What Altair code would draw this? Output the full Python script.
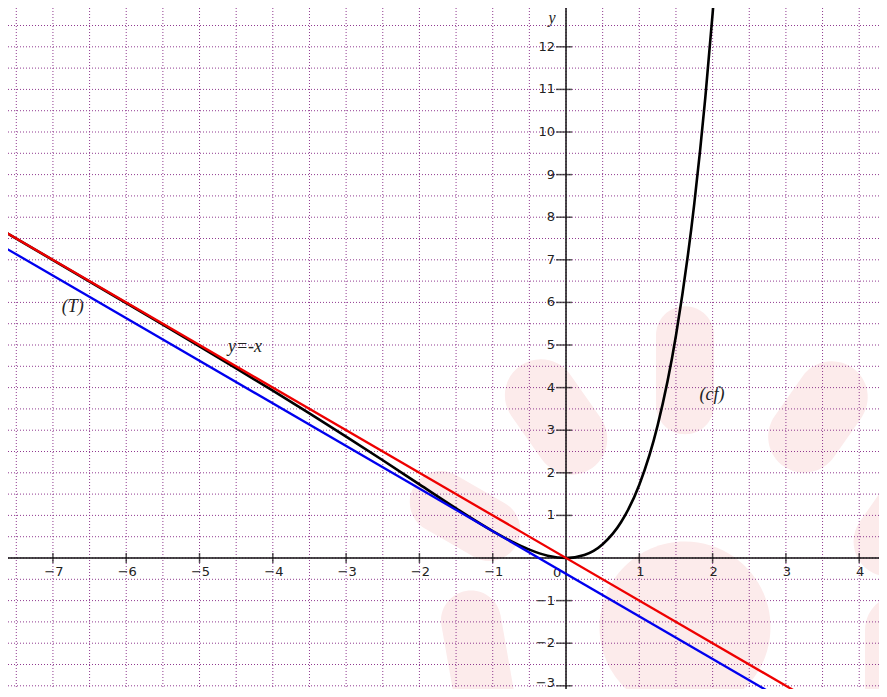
import altair as alt
import pandas as pd

# ---------------- data ----------------
# curve (cf)
cf_x = [-7.7, -7.5, -7.0, -6.5, -6.0, -5.5, -5.0, -4.5, -4.0, -3.5, -3.0, -2.5, -2.0,
        -1.5, -1.0, -0.75, -0.5, -0.25, 0.0, 0.25, 0.5, 0.75, 1.0, 1.25, 1.5, 1.75,
        1.9, 2.0, 2.05]
cf_y = [7.696, 7.496, 6.994, 6.490, 5.985, 5.478, 4.966, 4.450, 3.927, 3.394, 2.851,
        2.295, 1.729, 1.165, 0.632, 0.396, 0.197, 0.055, 0.0, 0.071, 0.324, 0.838,
        1.718, 3.113, 5.223, 8.321, 10.803, 12.778, 13.874]

# asymptote y = -x (red)
red_x = [-7.8, 3.4]
red_y = [7.8, -3.4]

# tangent (T) (blue)
blue_x = [-7.8, 3.2]
blue_y = [7.43, -3.57]

# axis ticks and labels
x_ticks = [-7, -6, -5, -4, -3, -2, -1, 1, 2, 3, 4]
x_tick_labels = ["−7", "−6", "−5", "−4", "−3", "−2", "−1", "1", "2", "3", "4"]
y_ticks = [-2, -1, 1, 2, 3, 4, 5, 6, 7, 8, 9, 10, 11, 12]
y_tick_labels = ["−2", "−1", "1", "2", "3", "4", "5", "6", "7", "8", "9", "10", "11", "12"]
y_low_tick = [-3]
y_low_label = ["−3"]

# dotted grid
grid_x = [v / 2 for v in range(-15, 9)]
grid_y = [v / 2 for v in range(-6, 26)]

# annotations
note_text = ["(T)", "y=-x", "(cf)"]
note_x = [-6.73, -4.38, 1.99]
note_y = [5.89, 4.95, 3.83]

# pale background blobs (watermark)
blob_x = [-0.136, 1.623, 3.438, -1.378, 1.623, -1.201, 4.557, 4.557]
blob_y = [3.31, 4.41, 3.31, 0.986, -1.62, -2.39, 0.77, -2.63]
blob_w = [72, 58, 72, 62, 171, 60, 70, 70]
blob_h = [125, 128, 120, 118, 171, 140, 110, 150]
blob_angle = [325, 0, 35, 300, 0, 350, 35, 0]

X_DOMAIN = [-7.613, 4.270]
Y_DOMAIN = [-3.075, 12.911]

xs = alt.Scale(domain=X_DOMAIN, nice=False, zero=False)
ys = alt.Scale(domain=Y_DOMAIN, nice=False, zero=False)
noax = None


def X():
    return alt.X("x:Q", scale=xs, axis=noax)


def Y():
    return alt.Y("y:Q", scale=ys, axis=noax)


def capsule(w, h):
    a = w / h
    b = 1 - a
    return (f"M{-a:.4f},{-b:.4f} A{a:.4f},{a:.4f} 0 0 1 {a:.4f},{-b:.4f} "
            f"L{a:.4f},{b:.4f} A{a:.4f},{a:.4f} 0 0 1 {-a:.4f},{b:.4f} Z")


layers = []

# blobs
for bx, by, bw, bh, ba in zip(blob_x, blob_y, blob_w, blob_h, blob_angle):
    d = pd.DataFrame({"x": [bx], "y": [by]})
    layers.append(
        alt.Chart(d).mark_point(shape=capsule(bw, bh), size=bh * bh, filled=True,
                                fill="#fcebeb", opacity=1, strokeWidth=0,
                                angle=ba, clip=True)
        .encode(x=X(), y=Y())
    )

# grid
gx = pd.DataFrame({"x": grid_x})
gy = pd.DataFrame({"y": grid_y})
layers.append(alt.Chart(gx).mark_rule(color="#8a2f8a", strokeWidth=1, strokeDash=[1, 2], opacity=0.95)
              .encode(x=X()))
layers.append(alt.Chart(gy).mark_rule(color="#8a2f8a", strokeWidth=1, strokeDash=[1, 2], opacity=0.95)
              .encode(y=Y()))

# axes
layers.append(alt.Chart(pd.DataFrame({"y": [0]})).mark_rule(color="#111", strokeWidth=1.5)
              .encode(y=Y()))
layers.append(alt.Chart(pd.DataFrame({"x": [0]})).mark_rule(color="#111", strokeWidth=1.5)
              .encode(x=X()))

xt = pd.DataFrame({"x": x_ticks, "y": [0] * len(x_ticks), "t": x_tick_labels})
yt = pd.DataFrame({"x": [0] * len(y_ticks), "y": y_ticks, "t": y_tick_labels})
ylow = pd.DataFrame({"x": [0], "y": y_low_tick, "t": y_low_label})
layers.append(alt.Chart(xt).mark_tick(orient="vertical", size=10, thickness=1.5, color="#111")
              .encode(x=X(), y=Y()))
layers.append(alt.Chart(pd.concat([yt, ylow])).mark_tick(orient="horizontal", size=16, thickness=1.5,
                                                         color="#111", xOffset=-2)
              .encode(x=X(), y=Y()))
layers.append(alt.Chart(xt).mark_text(font="DejaVu Sans", fontSize=13, color="#222", dy=14, dx=1)
              .encode(x=X(), y=Y(), text="t:N"))
layers.append(alt.Chart(yt).mark_text(font="DejaVu Sans", fontSize=13, color="#222", align="right", dx=-11)
              .encode(x=X(), y=Y(), text="t:N"))
layers.append(alt.Chart(ylow).mark_text(font="DejaVu Sans", fontSize=13, color="#222", align="right",
                                        dx=-11, dy=-3)
              .encode(x=X(), y=Y(), text="t:N"))
# origin label
layers.append(alt.Chart(pd.DataFrame({"x": [0], "y": [0], "t": ["0"]}))
              .mark_text(font="DejaVu Sans", fontSize=13, color="#222", dx=-9, dy=15)
              .encode(x=X(), y=Y(), text="t:N"))
# axis name y
layers.append(alt.Chart(pd.DataFrame({"x": [0], "y": [12.82], "t": ["y"]}))
              .mark_text(font="Liberation Serif", fontStyle="italic", fontSize=16, color="#222", dx=-14, dy=6)
              .encode(x=X(), y=Y(), text="t:N"))

# curves
cf = pd.DataFrame({"x": cf_x, "y": cf_y})
layers.append(alt.Chart(cf).mark_line(color="#000", strokeWidth=2.6, interpolate="monotone", clip=True)
              .encode(x=X(), y=Y(), order="x:Q"))
bl = pd.DataFrame({"x": blue_x, "y": blue_y})
layers.append(alt.Chart(bl).mark_line(color="#0000ee", strokeWidth=2.3, clip=True)
              .encode(x=X(), y=Y()))
rd = pd.DataFrame({"x": red_x, "y": red_y})
layers.append(alt.Chart(rd).mark_line(color="#ee0000", strokeWidth=2.3, clip=True)
              .encode(x=X(), y=Y()))

# annotations
nt = pd.DataFrame({"x": note_x, "y": note_y, "t": note_text})
layers.append(alt.Chart(nt).mark_text(font="Liberation Serif", fontStyle="italic", fontSize=18, color="#222")
              .encode(x=X(), y=Y(), text="t:N"))

chart = alt.layer(*layers).properties(
    width=871, height=681, padding=0, autosize=alt.AutoSizeParams(type="none")
).configure_view(stroke=None)

chart.save("out.html", embed_options={"renderer": "svg", "actions": False})
